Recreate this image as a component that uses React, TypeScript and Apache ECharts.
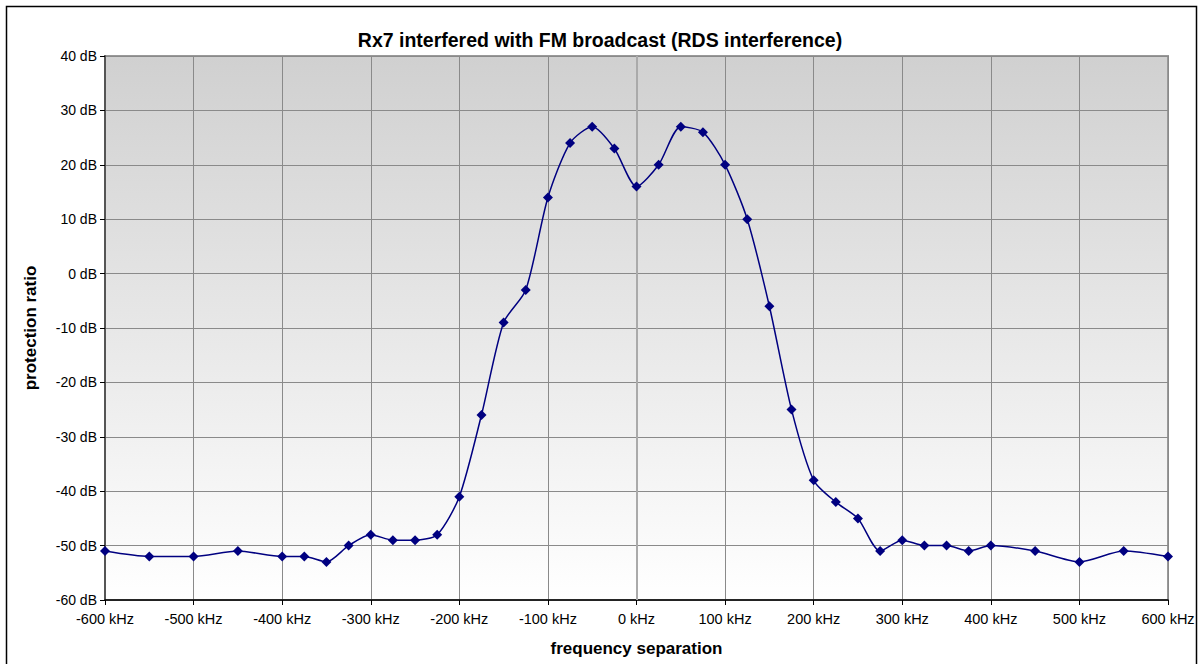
import React, { useEffect, useRef } from "react";
import * as echarts from "echarts";

const frequencies = [
  -600, -550, -500, -450, -400, -375, -350, -325, -300, -275, -250, -225, -200, -175, -150, -125,
  -100, -75, -50, -25, 0, 25, 50, 75, 100, 125, 150, 175, 200, 225, 250, 275, 300, 325, 350, 375,
  400, 450, 500, 550, 600,
];
const protection = [
  -51, -52, -52, -51, -52, -52, -53, -50, -48, -49, -49, -48, -41, -26, -9, -3,
  14, 24, 27, 23, 16, 20, 27, 26, 20, 10, -6, -25, -38, -42, -45, -51, -49, -50, -50, -51,
  -50, -51, -53, -51, -52,
];
const titleText = "Rx7 interfered with FM broadcast (RDS interference)";
const xName = "frequency separation";
const yName = "protection ratio";

export default function App() {
  const ref = useRef<HTMLDivElement>(null);
  useEffect(() => {
    if (!ref.current) return;
    const chart = echarts.init(ref.current, null, { renderer: "svg" });
    const font = "Arial, 'Liberation Sans', sans-serif";
    chart.setOption({
      animation: false,
      backgroundColor: "#ffffff",
      title: {
        text: titleText,
        left: "center",
        top: 25,
        textStyle: { fontSize: 19.5, fontWeight: "bold", color: "#000", fontFamily: font },
      },
      graphic: [
        {
          type: "rect",
          shape: { x: 6.5, y: 6.5, width: 1190, height: 680 },
          style: { fill: "none", stroke: "#000", lineWidth: 1.5 },
          silent: true,
        },
      ],
      grid: {
        left: 105,
        right: 32,
        top: 56,
        bottom: 64,
        show: true,
        borderColor: "#999999",
        borderWidth: 2,
        backgroundColor: new echarts.graphic.LinearGradient(0, 0, 0, 1, [
          { offset: 0, color: "#d0d0d0" },
          { offset: 1, color: "#ffffff" },
        ]),
      },
      xAxis: {
        type: "value",
        min: -600,
        max: 600,
        interval: 100,
        name: xName,
        nameLocation: "middle",
        nameGap: 40,
        nameTextStyle: { fontSize: 17, fontWeight: "bold", color: "#000", fontFamily: font },
        axisLine: { show: true, onZero: false, lineStyle: { color: "#000", width: 1.5 } },
        axisTick: { show: true, length: 5, lineStyle: { color: "#000" } },
        axisLabel: {
          formatter: "{value} kHz",
          fontSize: 14.5,
          color: "#000",
          fontFamily: font,
          margin: 11,
        },
        splitLine: { show: true, lineStyle: { color: "#8a8a8a", width: 1 } },
      },
      yAxis: {
        type: "value",
        min: -60,
        max: 40,
        interval: 10,
        name: yName,
        nameLocation: "middle",
        nameGap: 66,
        nameTextStyle: { fontSize: 17, fontWeight: "bold", color: "#000", fontFamily: font },
        axisLine: { show: true, onZero: false, lineStyle: { color: "#555", width: 2 } },
        axisTick: { show: true, length: 5, lineStyle: { color: "#000" } },
        axisLabel: {
          formatter: "{value} dB",
          fontSize: 14,
          color: "#000",
          fontFamily: font,
          margin: 8,
        },
        splitLine: { show: true, lineStyle: { color: "#8a8a8a", width: 1 } },
      },
      series: [
        {
          type: "line",
          data: frequencies.map((f, i) => [f, protection[i]]),
          smooth: 0.25,
          symbol: "diamond",
          symbolSize: 10,
          itemStyle: { color: "#000080" },
          lineStyle: { color: "#000080", width: 1.5 },
          markLine: {
            silent: true,
            symbol: "none",
            label: { show: false },
            lineStyle: { color: "#aaaaaa", width: 2, type: "solid" },
            data: [{ xAxis: 0 }],
            z: 1,
          },
        },
      ],
    });
    return () => chart.dispose();
  }, []);
  return (
    <div
      ref={ref}
      style={{ position: "fixed", left: 0, top: 0, width: 1200, height: 664 }}
    />
  );
}
